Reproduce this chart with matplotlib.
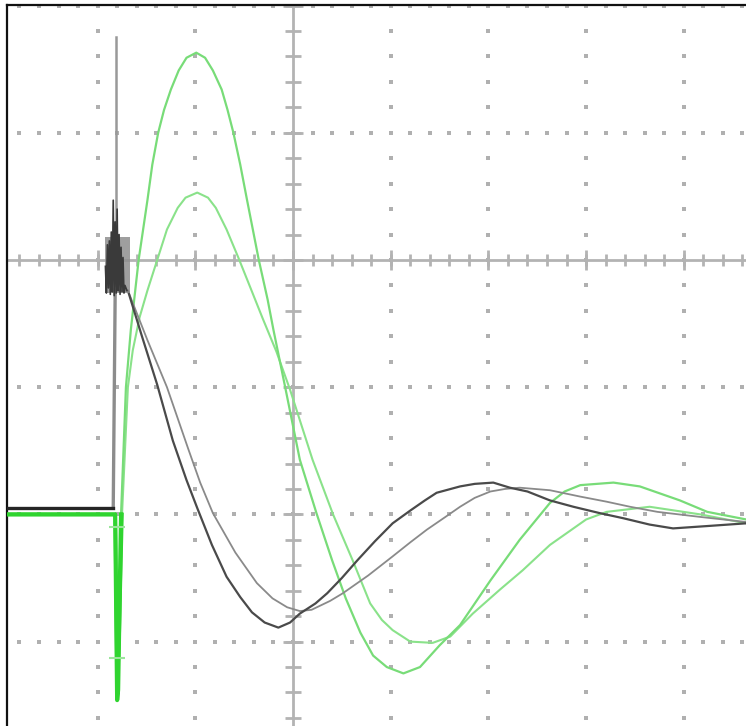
import numpy as np
import matplotlib.pyplot as plt

# values in screen divisions, centre of the graticule = (0, 0)

# black trace 1 (darker, deeper dip)
blk1_x = [-2.93, -1.84, -1.82, -1.69, -1.55, -1.39, -1.23, -1.09, -0.98, -0.83, -0.68,
          -0.54, -0.42, -0.29, -0.15, -0.03, 0.07, 0.23, 0.35, 0.50, 0.66, 0.84, 1.02,
          1.20, 1.35, 1.47, 1.71, 1.86, 2.05, 2.22, 2.40, 2.63, 2.87, 3.14, 3.38, 3.65,
          3.89, 4.27, 4.64]
blk1_y = [-1.95, -1.95, -0.24, -0.24, -0.59, -0.98, -1.42, -1.73, -1.95, -2.24, -2.49,
          -2.65, -2.77, -2.85, -2.89, -2.85, -2.78, -2.70, -2.62, -2.50, -2.36, -2.21, -2.07,
          -1.97, -1.89, -1.83, -1.78, -1.76, -1.75, -1.79, -1.82, -1.89, -1.94, -1.99, -2.03,
          -2.08, -2.11, -2.09, -2.07]

# black trace 2 (lighter)
blk2_x = [-1.69, -1.49, -1.29, -1.07, -0.95, -0.82, -0.59, -0.37, -0.21, -0.06, 0.07,
          0.19, 0.38, 0.51, 0.77, 1.02, 1.20, 1.37, 1.56, 1.71, 1.86, 2.02, 2.17, 2.32,
          2.63, 2.94, 3.21, 3.45, 3.73, 4.17, 4.64]
blk2_y = [-0.24, -0.63, -1.00, -1.49, -1.75, -1.99, -2.30, -2.54, -2.66, -2.73, -2.76,
          -2.75, -2.68, -2.62, -2.48, -2.33, -2.22, -2.12, -2.02, -1.94, -1.87, -1.82, -1.80,
          -1.79, -1.81, -1.86, -1.90, -1.94, -1.98, -2.02, -2.06]

# ringing burst at the trigger point
burst_x = [-1.92, -1.91, -1.90, -1.89, -1.88, -1.87, -1.86, -1.85, -1.84, -1.83, -1.82,
           -1.81, -1.80, -1.79, -1.78, -1.77, -1.76, -1.75, -1.74, -1.73, -1.72, -1.70]
burst_y = [-0.05, -0.26, 0.12, -0.22, 0.15, -0.27, 0.22, -0.25, 0.47, -0.28, 0.30,
           -0.26, 0.40, -0.24, 0.20, -0.27, 0.10, -0.25, 0.02, -0.26, -0.20, -0.24]
spike_x = [-1.81, -1.81]
spike_y = [-0.20, 1.75]

# green trace 1 (large swing)
grn1_x = [-2.93, -1.82, -1.80, -1.79, -1.76, -1.71, -1.66, -1.58, -1.49, -1.44, -1.38,
          -1.32, -1.25, -1.17, -1.09, -0.99, -0.90, -0.82, -0.73, -0.67, -0.61, -0.54,
          -0.47, -0.35, -0.26, -0.20, -0.08, 0.07, 0.24, 0.40, 0.54, 0.69, 0.82, 0.96,
          1.13, 1.30, 1.50, 1.71, 2.02, 2.32, 2.63, 2.78, 2.94, 3.28, 3.55, 3.96, 4.24, 4.64]
grn1_y = [-2.00, -2.00, -3.46, -3.38, -2.00, -1.00, -0.55, 0.00, 0.47, 0.75, 1.00,
          1.18, 1.34, 1.49, 1.59, 1.63, 1.59, 1.49, 1.34, 1.18, 1.00, 0.75,
          0.47, 0.00, -0.31, -0.55, -1.00, -1.57, -1.99, -2.36, -2.66, -2.93, -3.11, -3.20,
          -3.25, -3.20, -3.03, -2.87, -2.52, -2.20, -1.91, -1.82, -1.77, -1.75, -1.78, -1.89, -1.98, -2.04]

# green trace 2 (smaller swing)
grn2_x = [-2.93, -1.82, -1.80, -1.78, -1.75, -1.69, -1.64, -1.57, -1.49, -1.39, -1.29,
          -1.18, -1.10, -0.98, -0.87, -0.79, -0.68, -0.56, -0.44, -0.31, -0.17, -0.03,
          0.20, 0.41, 0.61, 0.79, 0.91, 1.02, 1.20, 1.43, 1.61, 1.84, 2.12, 2.35, 2.63,
          3.00, 3.21, 3.65, 4.17, 4.64]
grn2_y = [-2.00, -2.00, -3.38, -2.99, -2.00, -1.00, -0.71, -0.45, -0.24, 0.00, 0.24,
          0.41, 0.49, 0.53, 0.49, 0.41, 0.24, 0.02, -0.21, -0.46, -0.72, -1.02,
          -1.57, -2.00, -2.36, -2.70, -2.83, -2.91, -3.00, -3.01, -2.96, -2.78, -2.59, -2.44, -2.24,
          -2.04, -1.98, -1.94, -2.00, -2.07]

# small green cursor marks on the trigger column
mark_x = [-1.80, -1.80]
mark_y = [-2.10, -3.13]

# pixel geometry of the screen grab
W, H = 746, 726
cx, cy = 293, 260          # graticule centre (px)
dx, dy = 97.7, 127.2       # px per division
ax_l, ax_t = 7, 5          # frame left / top (px)

fig = plt.figure(figsize=(W / 100, H / 100), dpi=100)
ax = fig.add_axes([ax_l / W, -0.05, 1.05, 1 - ax_t / H + 0.05])
x_right = ax_l + 1.05 * W
y_bottom = H + 0.05 * H
ax.set_xlim((ax_l - cx) / dx, (x_right - cx) / dx)
ax.set_ylim((cy - y_bottom) / dy, (cy - ax_t) / dy)

for s in ['right', 'bottom']:
    ax.spines[s].set_visible(False)
for s in ['left', 'top']:
    ax.spines[s].set_linewidth(1.6)
    ax.spines[s].set_color('#111111')
ax.set_xticks([])
ax.set_yticks([])

dot = dict(marker='s', ms=2.4, mew=0, ls='none', color='#b0b0b0', zorder=1)
ys = np.arange(-4.0, 2.01, 0.2)
xs = np.arange(-3.0, 5.01, 0.2)
for gx in [-3, -2, -1, 1, 2, 3, 4, 5]:
    ax.plot(np.full_like(ys, gx), ys, **dot)
for gy in [-3, -2, -1, 1, 2]:
    ax.plot(xs, np.full_like(xs, gy), **dot)

# centre cross with minor ticks
tc = '#b3b3b3'
ax.axhline(0, color=tc, lw=2.0, zorder=1)
ax.axvline(0, color=tc, lw=2.0, zorder=1)
ax.plot(xs, np.zeros_like(xs), marker='|', ms=9, mew=2, ls='none', color=tc, zorder=1)
ax.plot(np.zeros_like(ys), ys, marker='_', ms=11, mew=2, ls='none', color=tc, zorder=1)
xi = np.arange(-3, 6)
yi = np.arange(-4, 3)
ax.plot(xi, np.zeros_like(xi), marker='|', ms=14, mew=2, ls='none', color=tc, zorder=1)
ax.plot(np.zeros_like(yi), yi, marker='_', ms=15, mew=2, ls='none', color=tc, zorder=1)

# green traces
ax.plot(grn2_x, grn2_y, color='#8ae28a', lw=1.5, zorder=3, solid_joinstyle='round')
ax.plot(grn1_x, grn1_y, color='#78dc78', lw=1.6, zorder=3, solid_joinstyle='round')
ax.plot(grn1_x[:5], grn1_y[:5], color='#2fd42f', lw=3.0, zorder=3)
ax.plot(grn2_x[:5], grn2_y[:5], color='#2fd42f', lw=2.5, zorder=3)
ax.plot(mark_x, mark_y, marker='_', ms=12, mew=1.5, ls='none', color='#9be69b', zorder=3)

# black traces
ax.plot(blk2_x, blk2_y, color='#8a8a8a', lw=1.3, zorder=4, solid_joinstyle='round')
ax.plot(blk1_x[2:], blk1_y[2:], color='#4a4a4a', lw=1.6, zorder=4, solid_joinstyle='round')
ax.plot(blk1_x[1:3], blk1_y[1:3], color='#8c8c8c', lw=2.4, zorder=4)
ax.plot(blk1_x[:2], blk1_y[:2], color='#262626', lw=2.4, zorder=4)
ax.plot(spike_x, spike_y, color='#999999', lw=1.8, zorder=4)
ax.fill_between([-1.92, -1.67], -0.26, 0.18, color='#8e8e8e', alpha=0.85, lw=0, zorder=4)
ax.plot(burst_x, burst_y, color='#3a3a3a', lw=1.2, zorder=5)

fig.savefig('out.png', dpi=100)
